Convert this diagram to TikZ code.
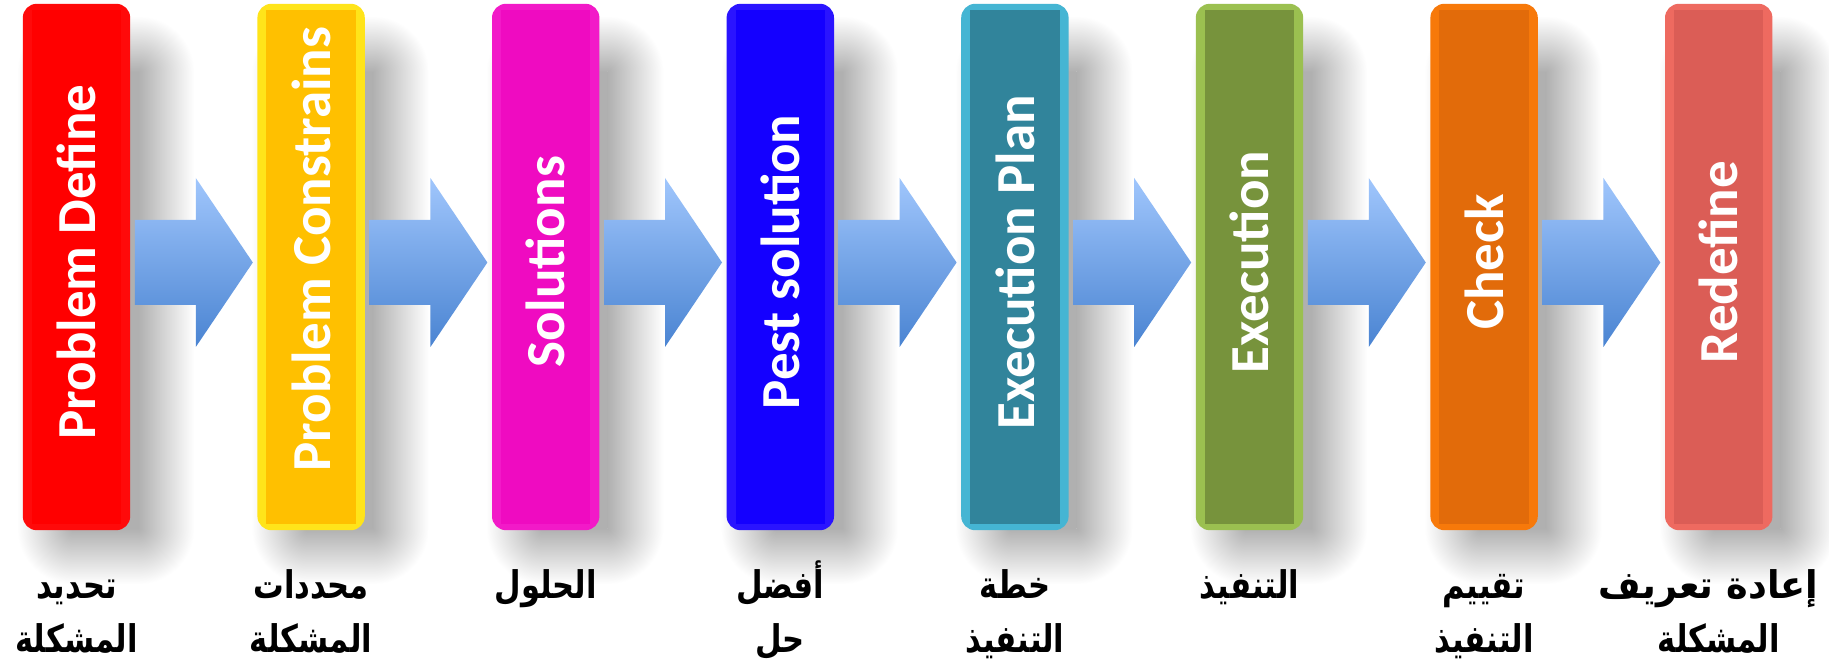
\documentclass[tikz,border=0pt]{standalone}
\usepackage{fontspec}
\setmainfont{Carlito}
\newfontfamily\arabicfont[Script=Arabic]{DejaVu Sans}
\TeXXeTstate=1
\usetikzlibrary{calc}
\definecolor{cA}{HTML}{FF0000}\definecolor{bA}{HTML}{FF0A0A}
\definecolor{cB}{HTML}{FFC000}\definecolor{bB}{HTML}{FFE41A}
\definecolor{cC}{HTML}{EF0BC1}\definecolor{bC}{HTML}{F21AC8}
\definecolor{cD}{HTML}{1400FF}\definecolor{bD}{HTML}{2A14FF}
\definecolor{cE}{HTML}{31849B}\definecolor{bE}{HTML}{45B5D3}
\definecolor{cF}{HTML}{77933C}\definecolor{bF}{HTML}{9BC050}
\definecolor{cG}{HTML}{E26B0A}\definecolor{bG}{HTML}{F7790A}
\definecolor{cH}{HTML}{DB5D56}\definecolor{bH}{HTML}{EE6A60}
\definecolor{arrtop}{HTML}{A0C6FC}
\definecolor{arrbot}{HTML}{4A84D2}
\definecolor{shadowgray}{HTML}{B0B0B0}
\pgfdeclareradialshading{shcorner}{\pgfpointorigin}{color(0bp)=(shadowgray); color(25bp)=(white); color(50bp)=(white)}
\def\sw{28}
% soft shadow behind a named box
\newcommand\softshadow[1]{%
  \coordinate (sTL) at ([shift={(22,-40)}]#1.north west);
  \coordinate (sBR) at ([shift={(36,-26)}]#1.south east);
  \coordinate (sTR) at (sTL -| sBR);
  \coordinate (sBL) at (sTL |- sBR);
  \fill[shadowgray] ($(sTL)+(\sw,-\sw)$) rectangle ($(sBR)+(-\sw,\sw)$);
  \shade[left color=shadowgray, right color=white] ($(sBR)+(-\sw,\sw)$) rectangle ($(sTR)+(\sw,-\sw)$);
  \shade[left color=white, right color=shadowgray] ($(sBL)+(-\sw,\sw)$) rectangle ($(sTL)+(\sw,-\sw)$);
  \shade[top color=shadowgray, bottom color=white] ($(sBL)+(\sw,\sw)$) rectangle ($(sBR)+(-\sw,-\sw)$);
  \shade[top color=white, bottom color=shadowgray] ($(sTL)+(\sw,\sw)$) rectangle ($(sTR)+(-\sw,-\sw)$);
  \foreach \cn/\dx/\dy in {sTL/1/-1, sTR/-1/-1, sBL/1/1, sBR/-1/1}{
    \begin{scope}
      \coordinate (cc) at ($(\cn)+(\dx*\sw,\dy*\sw)$);
      \clip ($(cc)$) rectangle ($(cc)+(-2*\dx*\sw,-2*\dy*\sw)$);
      \shade[shading=shcorner] (cc) circle ({2*\sw});
    \end{scope}
  }
}
\begin{document}
\begin{tikzpicture}[x=1pt,y=1pt,
  stepbox/.style={rounded corners=14pt, minimum width=107pt, minimum height=526pt, inner sep=0pt},
  boxtext/.style={rotate=90, text=white, font=\fontsize{55}{60}\selectfont\bfseries, inner sep=0pt},
  arabiclabel/.style={anchor=base, text=black, font=\arabicfont\bfseries\fontsize{34}{40}\selectfont, inner sep=0pt},
  blockarrow/.style={top color=arrtop, bottom color=arrbot, draw=none}
]
\useasboundingbox (0,0) rectangle (1829,667);
\fill[white] (0,0) rectangle (1829,667);
% box positions
\foreach \i in {1,...,8}{
  \path ({76.5+234.6*(\i-1)},400) node[stepbox] (b\i) {};
}
% shadows
\foreach \i in {1,...,8}{ \softshadow{b\i} }
% boxes
\foreach \i/\c in {1/A,2/B,3/C,4/D,5/E,6/F,7/G,8/H}{
  \fill[b\c, rounded corners=14pt] (b\i.north west) rectangle (b\i.south east);
  \fill[c\c] ([xshift=9pt,yshift=-6pt]b\i.north west) rectangle ([xshift=-9pt,yshift=6pt]b\i.south east);
}
% box texts
\node[boxtext] (t1) at ([yshift=5pt]b1.center) {Problem Define};
\node[boxtext] (t2) at ([yshift=18pt]b2.center) {Problem Constrains};
\node[boxtext] (t3) at ([yshift=5pt]b3.center) {Solutions};
\node[boxtext] (t4) at ([yshift=5pt]b4.center) {Pest solution};
\node[boxtext] (t5) at ([yshift=5pt]b5.center) {Execution Plan};
\node[boxtext] (t6) at ([yshift=5pt]b6.center) {Execution};
\node[boxtext] (t7) at ([yshift=5pt]b7.center) {Check};
\node[boxtext] (t8) at ([yshift=5pt]b8.center) {Redefine};
% arrows
\foreach \i [evaluate=\i as \j using int(\i+1)] in {1,...,7}{
  \coordinate (m\i) at ($(b\i.east)!0.5!(b\j.west)+(0,4.5)$);
  \shade[blockarrow, shift={(m\i)}] (-59,42.5) -- (2,42.5) -- (2,84.5) -- (59,0) -- (2,-84.5) -- (2,-42.5) -- (-59,-42.5) -- cycle;
}
% labels
\newcommand\ar[2][0.9]{\scalebox{#1}[1.12]{\beginR #2\endR}}
\node[arabiclabel] (l1a) at (b1.center |- 0,69) {\ar{تحديد}};
\node[arabiclabel] (l1b) at (b1.center |- 0,15) {\ar{المشكلة}};
\node[arabiclabel] (l2a) at (b2.center |- 0,69) {\ar{محددات}};
\node[arabiclabel] (l2b) at (b2.center |- 0,15) {\ar{المشكلة}};
\node[arabiclabel] (l3a) at (b3.center |- 0,69) {\ar{الحلول}};
\node[arabiclabel] (l4a) at (b4.center |- 0,69) {\ar{أفضل}};
\node[arabiclabel] (l4b) at (b4.center |- 0,15) {\ar{حل}};
\node[arabiclabel] (l5a) at (b5.center |- 0,69) {\ar{خطة}};
\node[arabiclabel] (l5b) at (b5.center |- 0,15) {\ar{التنفيذ}};
\node[arabiclabel] (l6a) at (b6.center |- 0,69) {\ar{التنفيذ}};
\node[arabiclabel] (l7a) at (b7.center |- 0,69) {\ar{تقييم}};
\node[arabiclabel] (l7b) at (b7.center |- 0,15) {\ar{التنفيذ}};
\node[arabiclabel] (l8a) at ([xshift=-10pt]b8.center |- 0,69) {\ar[1.08]{إعادة تعريف}};
\node[arabiclabel] (l8b) at (b8.center |- 0,15) {\ar{المشكلة}};
\end{tikzpicture}
\end{document}
